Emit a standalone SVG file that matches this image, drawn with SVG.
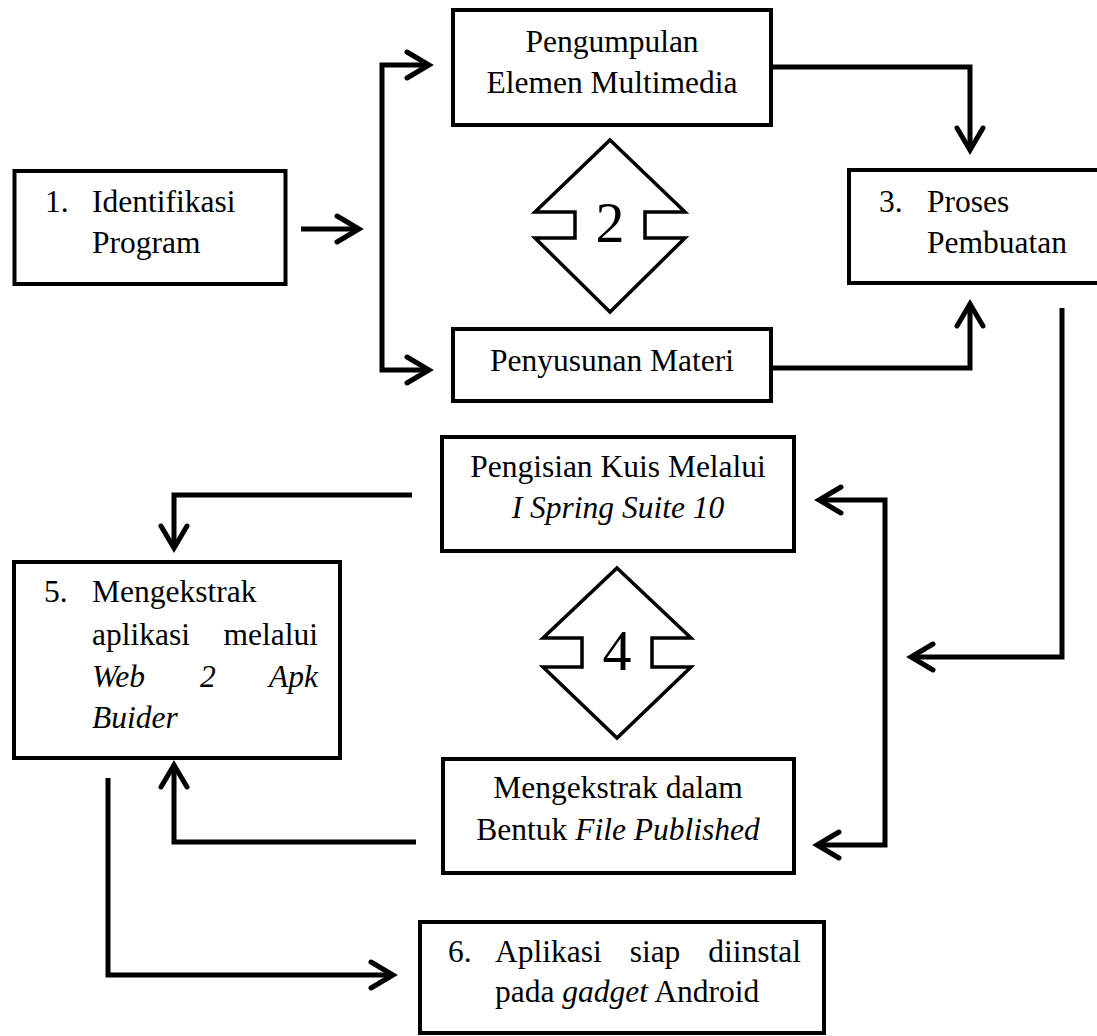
<svg xmlns="http://www.w3.org/2000/svg" width="1097" height="1036" viewBox="0 0 1097 1036">
<style>
.box{fill:#fff;stroke:#000;stroke-width:4}
.dia{fill:#fff;stroke:#000;stroke-width:3.5;stroke-linejoin:miter}
.t{font-family:"Liberation Serif","Times New Roman",serif;font-size:31.5px;fill:#000}
.c{text-anchor:middle}
.e{text-anchor:end}
.i{font-style:italic}
.num{font-family:"Liberation Serif","Times New Roman",serif;font-size:58px;fill:#000;text-anchor:middle}
.con{fill:none;stroke:#000;stroke-width:5}
</style>
<defs>
<marker id="ah" markerUnits="userSpaceOnUse" orient="auto" refX="0" refY="0" markerWidth="40" markerHeight="40" viewBox="-30 -20 40 40" overflow="visible">
<path d="M-22,-13 L0,0 L-22,13" fill="none" stroke="#000" stroke-width="5" stroke-linecap="round" stroke-linejoin="miter"/>
</marker>
</defs>
<rect width="1097" height="1036" fill="#fff"/>
<g id="connectors">
<path class="con" d="M301,229 H359" marker-end="url(#ah)"/>
<path class="con" d="M382,217 V65 H429" marker-end="url(#ah)"/>
<path class="con" d="M382,217 V370 H429" marker-end="url(#ah)"/>
<path class="con" d="M773,67 H970 V150" marker-end="url(#ah)"/>
<path class="con" d="M773,368 H970 V304" marker-end="url(#ah)"/>
<path class="con" d="M1062,308 V657 H911" marker-end="url(#ah)"/>
<path class="con" d="M885,670 V500 H819" marker-end="url(#ah)"/>
<path class="con" d="M885,670 V845 H817" marker-end="url(#ah)"/>
<path class="con" d="M412,495 H174 V548" marker-end="url(#ah)"/>
<path class="con" d="M416,842 H174 V765" marker-end="url(#ah)"/>
<path class="con" d="M108,778 V975 H393" marker-end="url(#ah)"/>
</g>
<g id="node1">
<rect class="box" x="14.5" y="171" width="271" height="113"/>
<text class="t" x="45" y="212">1.</text>
<text class="t" x="92" y="212">Identifikasi</text>
<text class="t" x="92" y="253">Program</text>
</g>
<g id="node2a">
<rect class="box" x="453" y="10" width="318" height="115"/>
<text class="t c" x="612" y="52">Pengumpulan</text>
<text class="t c" x="612" y="93">Elemen Multimedia</text>
</g>
<g id="node2b">
<rect class="box" x="453" y="329" width="318" height="72"/>
<text class="t c" x="612" y="371">Penyusunan Materi</text>
</g>
<g id="step2">
<polygon class="dia" points="610,140 685,212 645,212 645,238 685,238 610,312 535,238 575,238 575,212 535,212"/>
<text class="num" x="610" y="242">2</text>
</g>
<g id="node3">
<rect class="box" x="849" y="170" width="270" height="113"/>
<text class="t" x="879" y="212">3.</text>
<text class="t" x="927" y="212">Proses</text>
<text class="t" x="927" y="253">Pembuatan</text>
</g>
<g id="node4a">
<rect class="box" x="442" y="437" width="352" height="114"/>
<text class="t c" x="618" y="477">Pengisian Kuis Melalui</text>
<text class="t c i" x="618" y="518">I Spring Suite 10</text>
</g>
<g id="step4">
<polygon class="dia" points="617,568 691,638 652,638 652,667 691,667 617,738 543,667 582,667 582,638 543,638"/>
<text class="num" x="617" y="670">4</text>
</g>
<g id="node4b">
<rect class="box" x="443" y="759" width="351" height="114"/>
<text class="t c" x="618" y="798">Mengekstrak dalam</text>
<text class="t c" x="618" y="840">Bentuk <tspan class="i">File Published</tspan></text>
</g>
<g id="node5">
<rect class="box" x="14" y="562" width="326" height="196"/>
<text class="t" x="44" y="602">5.</text>
<text class="t" x="92" y="602">Mengekstrak</text>
<text class="t" x="92" y="645">aplikasi</text>
<text class="t e" x="318" y="645">melalui</text>
<text class="t i" x="92" y="687">Web</text>
<text class="t i" x="200" y="687">2</text>
<text class="t i e" x="318" y="687">Apk</text>
<text class="t i" x="92" y="728">Buider</text>
</g>
<g id="node6">
<rect class="box" x="420" y="922" width="404" height="111"/>
<text class="t" x="448" y="962">6.</text>
<text class="t" x="495" y="962">Aplikasi</text>
<text class="t c" x="655" y="962">siap</text>
<text class="t e" x="801" y="962">diinstal</text>
<text class="t" x="495" y="1002">pada <tspan class="i">gadget</tspan> Android</text>
</g>
</svg>
